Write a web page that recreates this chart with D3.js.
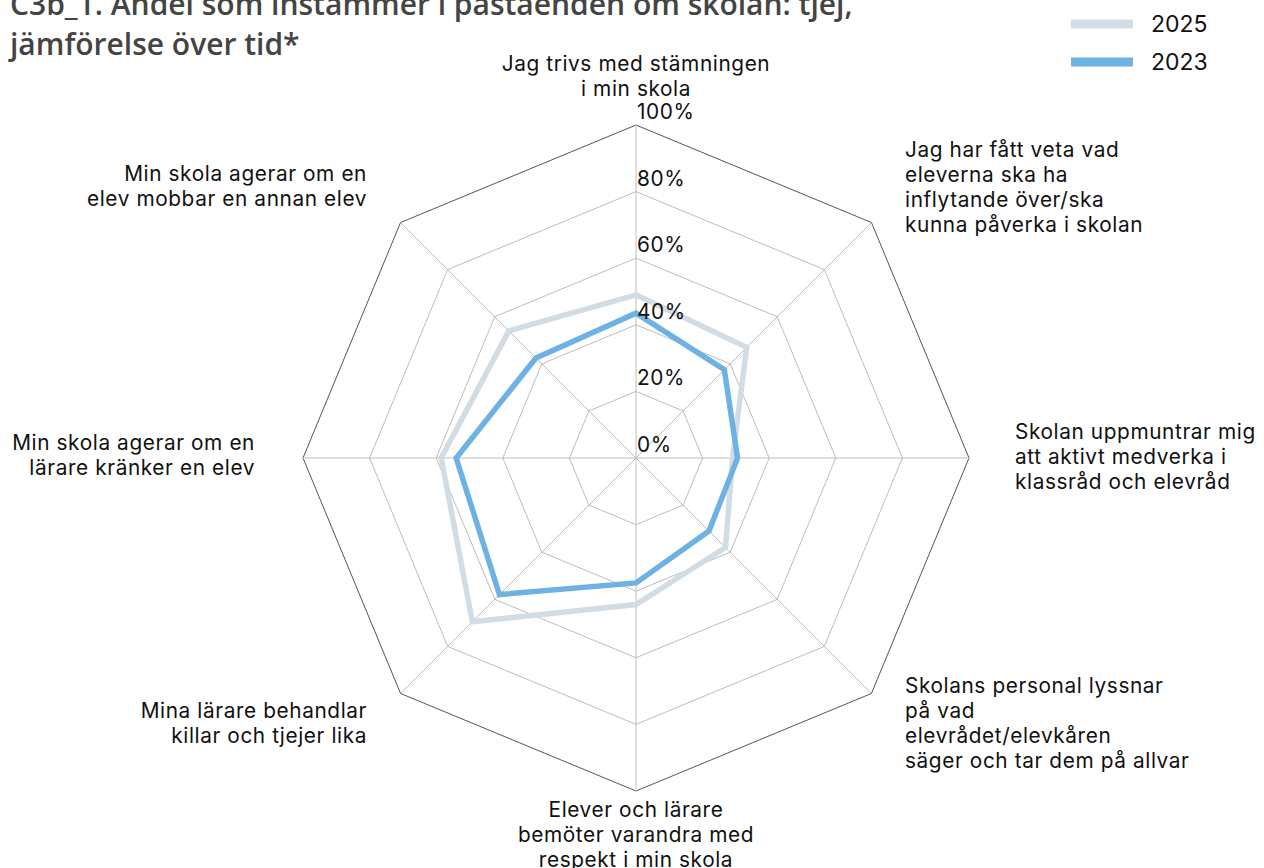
<!DOCTYPE html>
<html>
<head>
<meta charset="utf-8">
<script src="https://cdn.jsdelivr.net/npm/d3@7"></script>
<style>
  body { margin: 0; background: #fff; }
  svg { display: block; }
</style>
</head>
<body>
<div id="chart"></div>
<script>
// axis labels, clockwise from top
let categories = [
  ["Jag trivs med stämningen", "i min skola"],
  ["Jag har fått veta vad", "eleverna ska ha", "inflytande över/ska", "kunna påverka i skolan"],
  ["Skolan uppmuntrar mig", "att aktivt medverka i", "klassråd och elevråd"],
  ["Skolans personal lyssnar", "på vad", "elevrådet/elevkåren", "säger och tar dem på allvar"],
  ["Elever och lärare", "bemöter varandra med", "respekt i min skola"],
  ["Mina lärare behandlar", "killar och tjejer lika"],
  ["Min skola agerar om en", "lärare kränker en elev"],
  ["Min skola agerar om en", "elev mobbar en annan elev"]
];

let years = ["2025", "2023"];
let values2025 = [49, 47, 29, 38, 44, 69.5, 58.5, 54];
let values2023 = [43.5, 37.5, 30.5, 31, 37.5, 58, 54, 42.5];
let tickValues = [0, 20, 40, 60, 80, 100];

let svgWidth = 1264;
let svgHeight = 868;
let cx = 636, cy = 458;
let radius = 333;
let labelFont = "Inter, 'DejaVu Sans', sans-serif";
let labelSize = "20.8px";
let labelSpacing = "0.6px";

let svg = d3.select("#chart")
  .append("svg")
  .attr("width", svgWidth)
  .attr("height", svgHeight);

// title, partly cut at the top like the reference
svg.append("text")
  .attr("x", 10)
  .attr("y", 15)
  .attr("font-family", "'Open Sans', 'Noto Sans', sans-serif")
  .attr("font-weight", 600)
  .attr("font-size", "30px")
  .attr("fill", "#444")
  .selectAll("tspan")
  .data(["C3b_1. Andel som instämmer i påståenden om skolan: tjej,", "jämförelse över tid*"])
  .enter().append("tspan")
  .attr("x", 10)
  .attr("dy", (d, i) => i === 0 ? 0 : 40)
  .text(d => d);

let r = d3.scaleLinear().domain([0, 100]).range([0, radius]);
let angle = d3.scaleLinear().domain([0, categories.length]).range([0, 2 * Math.PI]);

let g = svg.append("g").attr("transform", `translate(${cx}, ${cy})`);

function pt(i, v) {
  let a = angle(i);
  return [r(v) * Math.sin(a), -r(v) * Math.cos(a)];
}

// grid polygons
tickValues.filter(t => t > 0).forEach(t => {
  g.append("polygon")
    .attr("points", categories.map((c, i) => pt(i, t).join(",")).join(" "))
    .attr("fill", "none")
    .attr("stroke", t === 100 ? "#555" : "#bdbdbd")
    .attr("stroke-width", 1);
});

// spokes
categories.forEach((c, i) => {
  let p = pt(i, 100);
  g.append("line")
    .attr("x1", 0).attr("y1", 0)
    .attr("x2", p[0]).attr("y2", p[1])
    .attr("stroke", "#bdbdbd")
    .attr("stroke-width", 1);
});

// series
let line = d3.lineRadial()
  .angle((d, i) => angle(i))
  .radius(d => r(d))
  .curve(d3.curveLinearClosed);

let seriesColors = { "2025": "#d1dce4", "2023": "#6db2e3" };
[["2025", values2025], ["2023", values2023]].forEach(([yr, vals]) => {
  g.append("path")
    .attr("d", line(vals))
    .attr("fill", "none")
    .attr("stroke", seriesColors[yr])
    .attr("stroke-width", 5.5)
    .attr("stroke-linejoin", "miter");
});

// tick labels
g.selectAll(".tick")
  .data(tickValues)
  .enter().append("text")
  .attr("x", 1)
  .attr("y", d => -r(d) - 6)
  .attr("font-family", labelFont)
  .attr("font-size", labelSize)
  .attr("letter-spacing", labelSpacing)
  .attr("fill", "#111")
  .text(d => d + "%");

// axis labels
let labelPos = [
  { x: 636, y: 71, anchor: "middle" },
  { x: 905, y: 157, anchor: "start" },
  { x: 1015, y: 439, anchor: "start" },
  { x: 905, y: 693, anchor: "start" },
  { x: 636, y: 817, anchor: "middle" },
  { x: 367, y: 718, anchor: "end" },
  { x: 255, y: 450, anchor: "end" },
  { x: 367, y: 181, anchor: "end" }
];

categories.forEach((lines, i) => {
  let t = svg.append("text")
    .attr("x", labelPos[i].x)
    .attr("y", labelPos[i].y)
    .attr("text-anchor", labelPos[i].anchor)
    .attr("font-family", labelFont)
    .attr("font-size", labelSize)
    .attr("letter-spacing", labelSpacing)
    .attr("fill", "#111");
  lines.forEach((l, j) => {
    t.append("tspan")
      .attr("x", labelPos[i].x)
      .attr("dy", j === 0 ? 0 : 25)
      .text(l);
  });
});

// legend
let legend = svg.append("g").attr("transform", "translate(1071, 24)");
years.forEach((yr, i) => {
  legend.append("line")
    .attr("x1", 0).attr("x2", 62)
    .attr("y1", i * 38).attr("y2", i * 38)
    .attr("stroke", seriesColors[yr])
    .attr("stroke-width", 9);
  legend.append("text")
    .attr("x", 80)
    .attr("y", i * 38 + 8)
    .attr("font-family", labelFont)
    .attr("font-size", "23px")
    .attr("fill", "#111")
    .text(yr);
});
</script>
</body>
</html>
